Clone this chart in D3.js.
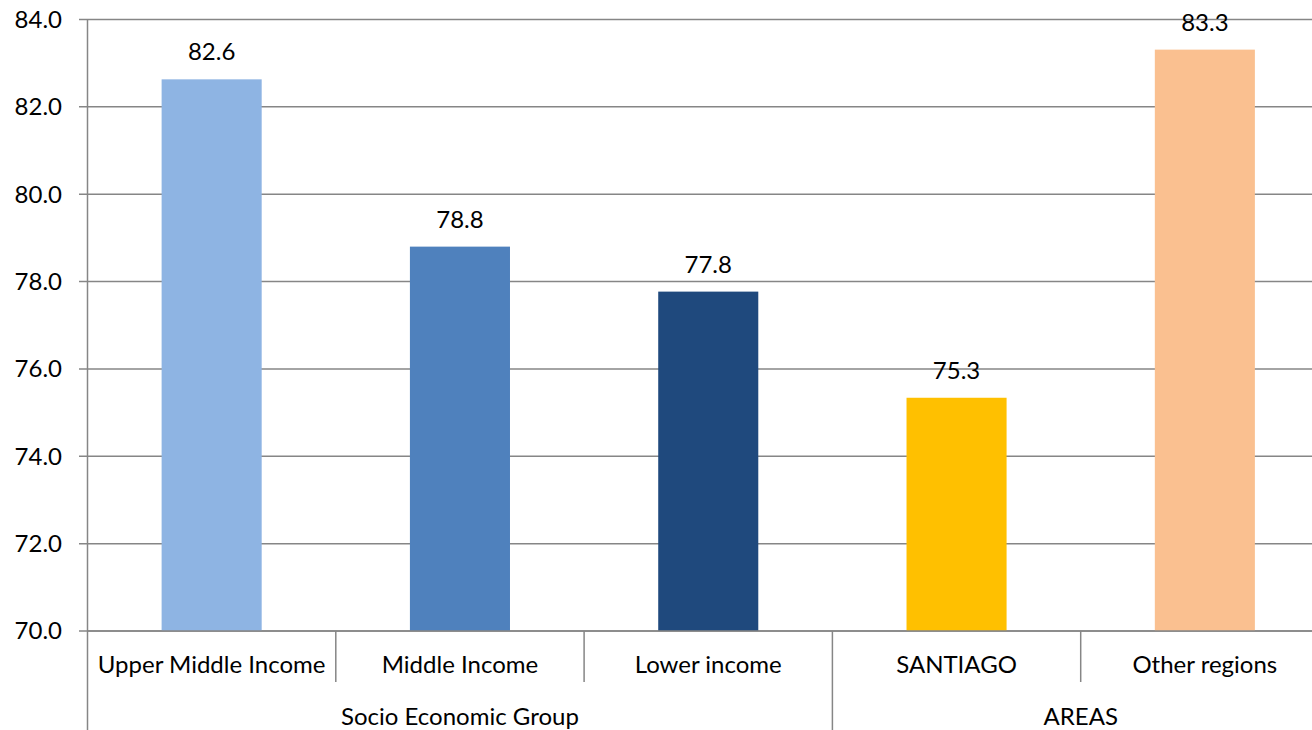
<!DOCTYPE html>
<html><head><meta charset="utf-8">
<script src="https://cdn.jsdelivr.net/npm/d3@7"></script>
<style>body{margin:0;background:#fff;overflow:hidden}svg{display:block}</style>
</head><body>
<script>
const categories = ["Upper Middle Income","Middle Income","Lower income","SANTIAGO","Other regions"];
const values = [82.63, 78.8, 77.77, 75.34, 83.31];
const colors = ["#8EB4E3","#4F81BD","#1F497D","#FFC000","#FAC090"];
const groups = [{name:"Socio Economic Group", start:0, end:3},{name:"AREAS", start:3, end:5}];
const yTicks = [70,72,74,76,78,80,82,84];

const W=1312,H=730;
const font = "Lato, 'Open Sans', sans-serif";
const fs = 24;
const svg = d3.select("body").append("svg").attr("width",W).attr("height",H);
const x0=87.5, x1=1329, yTop=19.5, yBot=631;
const x = d3.scaleBand().domain(categories).range([x0,x1]).paddingInner(0.597).paddingOuter(0.2985);
const y = d3.scaleLinear().domain([70,84]).range([yBot,yTop]);
const grid="#868686";

// gridlines
svg.append("g").selectAll("line").data(yTicks).join("line")
  .attr("x1",79).attr("x2",W).attr("y1",d=>y(d)).attr("y2",d=>y(d))
  .attr("stroke",grid).attr("stroke-width",1.5);

// y labels
svg.append("g").selectAll("text").data(yTicks).join("text")
  .attr("x",62).attr("y",d=>y(d)).attr("dy","0.35em").attr("text-anchor","end")
  .attr("font-family",font).attr("font-size",fs).attr("fill","#000").text(d=>d.toFixed(1));

// bars
svg.append("g").selectAll("rect").data(categories).join("rect")
  .attr("x",d=>x(d)).attr("width",x.bandwidth())
  .attr("y",(d,i)=>y(values[i])).attr("height",(d,i)=>yBot-y(values[i]))
  .attr("fill",(d,i)=>colors[i]);

// value labels
svg.append("g").selectAll("text").data(categories).join("text")
  .attr("x",d=>x(d)+x.bandwidth()/2).attr("y",(d,i)=>y(values[i])-19)
  .attr("text-anchor","middle").attr("font-family",font).attr("font-size",fs).attr("fill","#000")
  .text((d,i)=>values[i].toFixed(1));

// y axis line
svg.append("line").attr("x1",x0).attr("x2",x0).attr("y1",yTop).attr("y2",H).attr("stroke",grid).attr("stroke-width",1.5);
// x baseline
svg.append("line").attr("x1",x0).attr("x2",W).attr("y1",yBot).attr("y2",yBot).attr("stroke",grid).attr("stroke-width",1.5);

const step = x.step();
// category separators
const seps = d3.range(1,categories.length).map(i=>x0+i*step);
const groupBounds = new Set(groups.map(g=>g.start).filter(s=>s>0));
svg.append("g").selectAll("line").data(seps).join("line")
  .attr("x1",d=>d).attr("x2",d=>d).attr("y1",yBot)
  .attr("y2",(d,i)=>groupBounds.has(i+1)?H:682)
  .attr("stroke",grid).attr("stroke-width",1.5);

// category labels
svg.append("g").selectAll("text").data(categories).join("text")
  .attr("x",d=>x(d)+x.bandwidth()/2).attr("y",665).attr("dy","0.35em")
  .attr("text-anchor","middle").attr("font-family",font).attr("font-size",fs).attr("fill","#000").text(d=>d);

// group labels
svg.append("g").selectAll("text").data(groups).join("text")
  .attr("x",g=>x0+(g.start+g.end)/2*step).attr("y",717).attr("dy","0.35em")
  .attr("text-anchor","middle").attr("font-family",font).attr("font-size",fs).attr("fill","#000").text(g=>g.name);
</script>
</body></html>
